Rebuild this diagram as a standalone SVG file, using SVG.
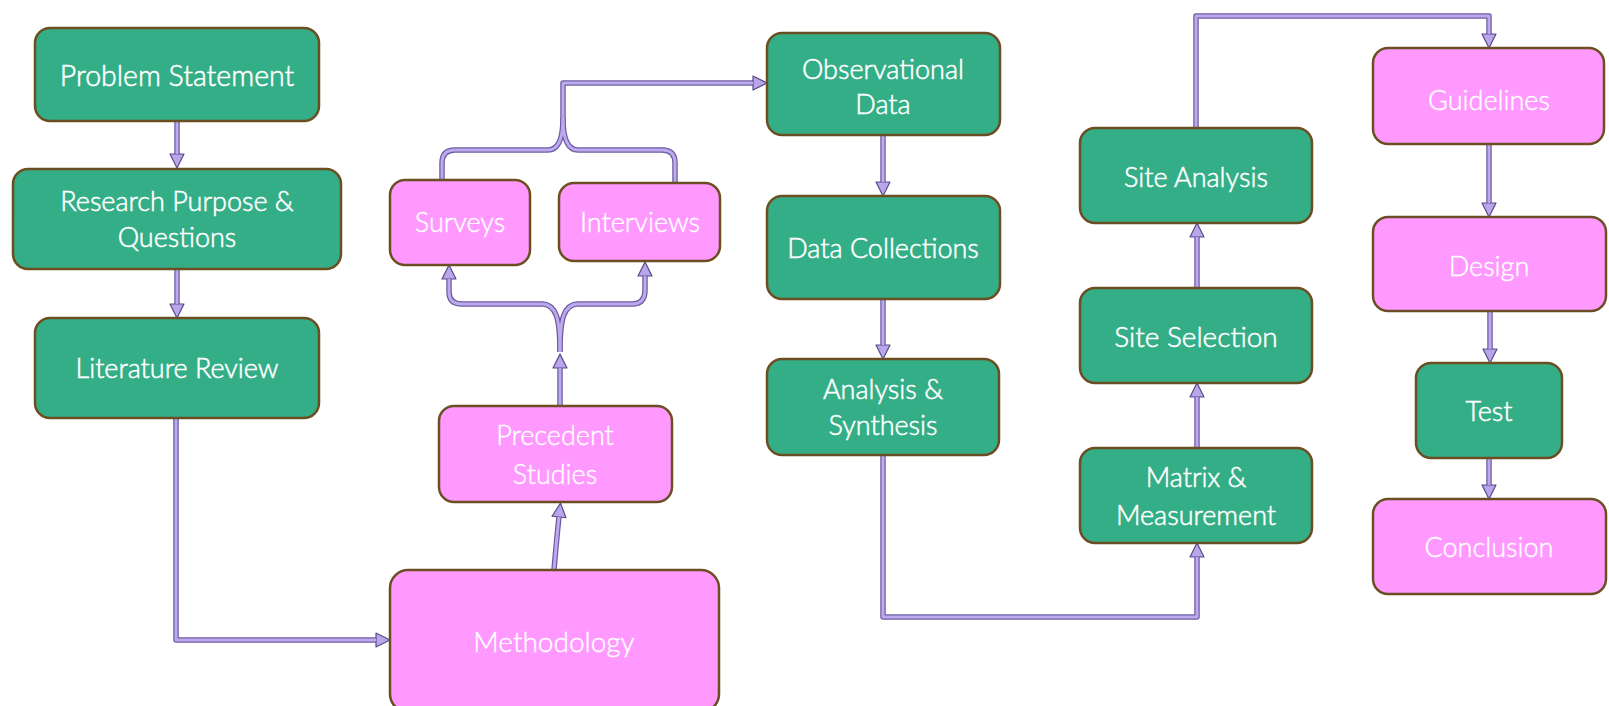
<svg xmlns="http://www.w3.org/2000/svg" xmlns:xlink="http://www.w3.org/1999/xlink" width="1609" height="706" viewBox="0 0 1609 706">
<style>
.g rect{fill:#34AE86;stroke:#6B4E22;stroke-width:2.5}
.p rect{fill:#FF99FF;stroke:#6B4E22;stroke-width:2.5}
text{font-family:"Lato","Open Sans",sans-serif;font-size:27px;fill:#ffffff;text-anchor:middle;font-weight:300;stroke:#ffffff}
.g text{stroke-width:0.55}
.p text{stroke-width:0.4}
.wo{fill:none;stroke:#6E5CA0;stroke-width:5.5;stroke-linejoin:round;marker-end:url(#ah)}
.wi{fill:none;stroke:#BCA9EE;stroke-width:3;stroke-linejoin:round}
</style>
<defs>
<marker id="ah" markerUnits="userSpaceOnUse" viewBox="-1 -8 17 16" markerWidth="17" markerHeight="16" refX="0" refY="0" orient="auto">
<path d="M0,-7 L14,0 L0,7 z" fill="#B9A5EC" stroke="#5A4A85" stroke-width="1.2" stroke-linejoin="round"/>
</marker>
<path id="c1" d="M177,122 L177,154"/>
<path id="c2" d="M177,269 L177,304"/>
<path id="c3" d="M176,418 L176,640 L376,640"/>
<path id="c4" d="M554,570 Q557,535 559,517"/>
<path id="c5" d="M560,406 L560,368"/>
<path id="c6" d="M560,352 C560,318 556,305 543,304 L462,304 Q449,304 449,292 L449,279"/>
<path id="c7" d="M560,352 C560,318 564,305 577,304 L632,304 Q645,304 645,290 L645,276"/>
<path id="c8" d="M442,180 L442,163 Q442,150 455,150 L548,150 Q563,150 563,118 L563,83 L753,83"/>
<path id="c9" d="M675,183 L675,163 Q675,150 662,150 L578,150 Q563,150 563,118"/>
<path id="c10" d="M883,135 L883,182"/>
<path id="c11" d="M883,299 L883,345"/>
<path id="c12" d="M883,455 L883,617 L1197,617 L1197,557"/>
<path id="c13" d="M1197,448 L1197,397"/>
<path id="c14" d="M1197,288 L1197,237"/>
<path id="c15" d="M1196,128 L1196,16 L1489,16 L1489,34"/>
<path id="c16" d="M1489,144 L1489,203"/>
<path id="c17" d="M1490,311 L1490,349"/>
<path id="c18" d="M1489,458 L1489,485"/>
</defs>
<rect width="1609" height="706" fill="#ffffff"/>

<g id="connectors">
<g class="wo">
<use xlink:href="#c1"/><use xlink:href="#c2"/><use xlink:href="#c3"/><use xlink:href="#c4"/><use xlink:href="#c5"/><use xlink:href="#c6"/><use xlink:href="#c7"/><use xlink:href="#c8"/><use xlink:href="#c9" style="marker-end:none"/><use xlink:href="#c10"/><use xlink:href="#c11"/><use xlink:href="#c12"/><use xlink:href="#c13"/><use xlink:href="#c14"/><use xlink:href="#c15"/><use xlink:href="#c16"/><use xlink:href="#c17"/><use xlink:href="#c18"/>
</g>
<g class="wi">
<use xlink:href="#c1"/><use xlink:href="#c2"/><use xlink:href="#c3"/><use xlink:href="#c4"/><use xlink:href="#c5"/><use xlink:href="#c6"/><use xlink:href="#c7"/><use xlink:href="#c8"/><use xlink:href="#c9"/><use xlink:href="#c10"/><use xlink:href="#c11"/><use xlink:href="#c12"/><use xlink:href="#c13"/><use xlink:href="#c14"/><use xlink:href="#c15"/><use xlink:href="#c16"/><use xlink:href="#c17"/><use xlink:href="#c18"/>
</g>
</g>

<g id="problem-statement" class="g"><rect x="35" y="28" width="284" height="93" rx="15"/><text x="177" y="86" style="font-size:28.5px">Problem Statement</text></g>
<g id="research-purpose" class="g"><rect x="13" y="169" width="328" height="100" rx="15"/><text x="177" y="211">Research Purpose &amp;</text><text x="177" y="247">Questions</text></g>
<g id="literature-review" class="g"><rect x="35" y="318" width="284" height="100" rx="15"/><text x="177" y="378">Literature Review</text></g>
<g id="methodology" class="p"><rect x="390" y="570" width="329" height="142" rx="18"/><text x="554" y="652" style="font-size:28px">Methodology</text></g>
<g id="precedent-studies" class="p"><rect x="439" y="406" width="233" height="96" rx="15"/><text x="555" y="445">Precedent</text><text x="555" y="484">Studies</text></g>
<g id="surveys" class="p"><rect x="390" y="180" width="140" height="85" rx="15"/><text x="460" y="232">Surveys</text></g>
<g id="interviews" class="p"><rect x="559" y="183" width="161" height="78" rx="15"/><text x="640" y="232">Interviews</text></g>
<g id="observational-data" class="g"><rect x="767" y="33" width="233" height="102" rx="15"/><text x="883" y="79">Observational</text><text x="883" y="114">Data</text></g>
<g id="data-collections" class="g"><rect x="767" y="196" width="233" height="103" rx="15"/><text x="883" y="258">Data Collections</text></g>
<g id="analysis-synthesis" class="g"><rect x="767" y="359" width="232" height="96" rx="15"/><text x="883" y="399">Analysis &amp;</text><text x="883" y="435">Synthesis</text></g>
<g id="site-analysis" class="g"><rect x="1080" y="128" width="232" height="95" rx="15"/><text x="1196" y="187">Site Analysis</text></g>
<g id="site-selection" class="g"><rect x="1080" y="288" width="232" height="95" rx="15"/><text x="1196" y="347" style="font-size:28px">Site Selection</text></g>
<g id="matrix-measurement" class="g"><rect x="1080" y="448" width="232" height="95" rx="15"/><text x="1196" y="487">Matrix &amp;</text><text x="1196" y="525">Measurement</text></g>
<g id="guidelines" class="p"><rect x="1373" y="48" width="231" height="96" rx="15"/><text x="1489" y="110">Guidelines</text></g>
<g id="design" class="p"><rect x="1373" y="217" width="233" height="94" rx="15"/><text x="1489" y="276">Design</text></g>
<g id="test" class="g"><rect x="1416" y="363" width="146" height="95" rx="15"/><text x="1489" y="421">Test</text></g>
<g id="conclusion" class="p"><rect x="1373" y="499" width="233" height="95" rx="15"/><text x="1489" y="557">Conclusion</text></g>
</svg>
